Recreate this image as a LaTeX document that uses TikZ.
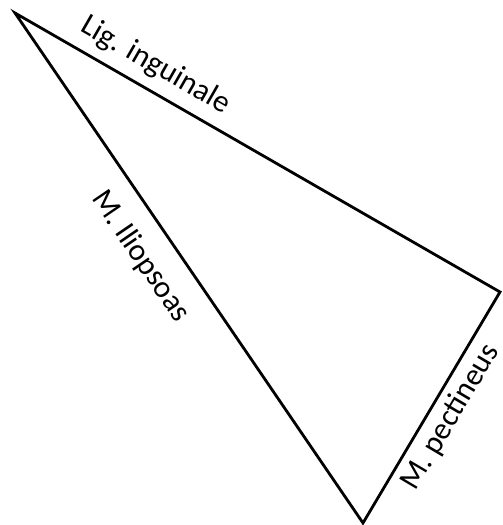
\documentclass[tikz,border=0pt]{standalone}
\usepackage{fontspec}
\setmainfont{Carlito}
\usetikzlibrary{positioning}

\tikzset{
  edge/.style={line width=2.8pt, line join=miter},
  lbl/.style={font=\fontsize{31}{36}\selectfont, sloped, inner sep=2pt}
}

\begin{document}
\begin{tikzpicture}[x=1pt,y=-1pt]
  \useasboundingbox (0,0) rectangle (503,525);

  \coordinate (apex) at (15,13);
  \coordinate (lat) at (500,292);
  \coordinate (bot) at (363,523);

  \draw[edge] (apex) -- (lat) -- (bot) -- cycle;

  \path (apex) -- node[lbl, above=9pt, pos=0.265] (lig) {Lig. inguinale} (lat);
  \path (apex) -- node[lbl, below=18pt, pos=0.44] (ilio) {M. Iliopsoas} (bot);
  \path (bot) -- node[lbl, below=6pt, pos=0.505] (pect) {M. pectineus} (lat);
\end{tikzpicture}
\end{document}
